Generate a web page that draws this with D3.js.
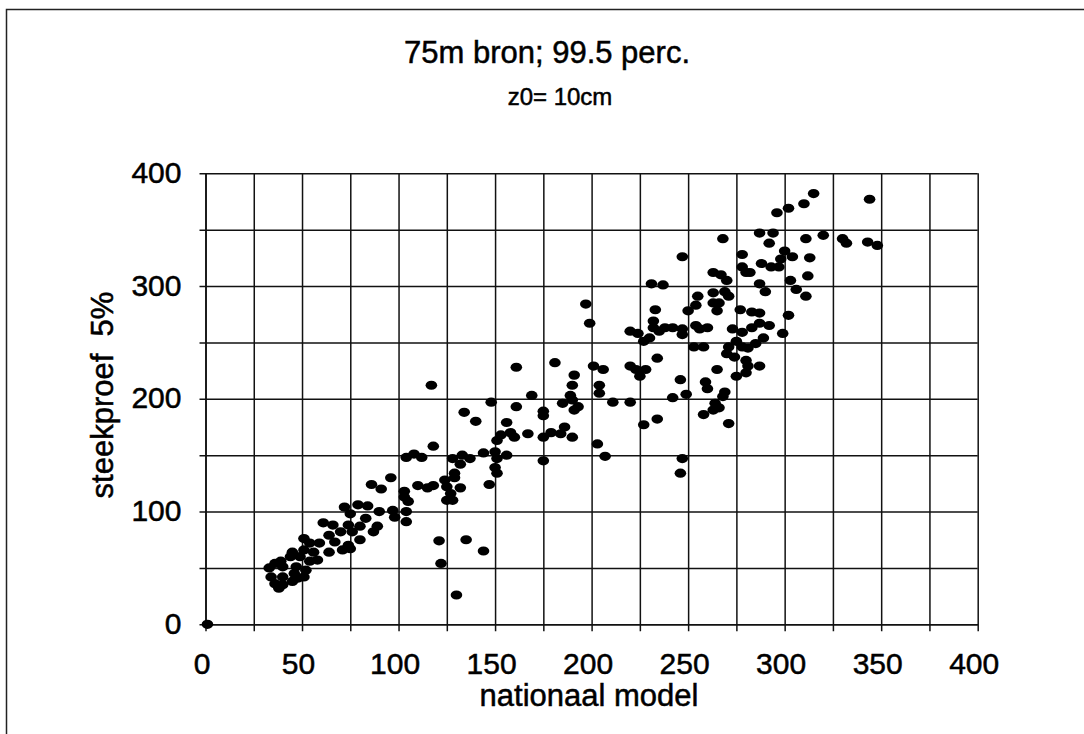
<!DOCTYPE html>
<html>
<head>
<meta charset="utf-8">
<script src="https://cdn.jsdelivr.net/npm/d3@7"></script>
<style>
  body { margin: 0; background: #fff; }
  svg { display: block; font-family: "Liberation Sans", Arial, sans-serif; }
  text { fill: #000; stroke: #000; stroke-width: 0.5px; }
</style>
</head>
<body>
<svg id="chart" width="1084" height="734"></svg>
<script>

// Chart texts
const titleText = "75m bron; 99.5 perc.";
const subtitleText = "z0= 10cm";
const xTitle = "nationaal model";
const yTitle = "steekproef  5%";

// Axis ticks
const xGridValues = d3.range(0, 401, 25);
const xLabelValues = d3.range(0, 401, 50);
const yGridValues = d3.range(0, 401, 50);
const yLabelValues = d3.range(0, 401, 100);

// Data: nationaal model (x) vs steekproef 5% (y)
const nationaal = [
  96, 86, 91, 110, 115, 103, 105, 103, 72, 79, 84, 90, 75, 97, 104, 98, 104, 83, 89, 80,
  74, 61, 66, 87, 76, 70, 64, 51, 54, 59, 67, 74, 80, 71, 75, 64, 56, 51, 45, 49,
  44, 58, 54, 39, 36, 33, 40, 47, 52, 34, 40, 46, 51, 36, 40, 38, 45, 48,
  117, 161, 191, 190, 201, 206, 204, 204, 148, 169, 189, 190, 185, 193, 191, 211, 134, 140, 161, 175,
  175, 156, 186, 153, 158, 160, 151, 167, 175, 179, 184, 190, 203, 207, 175, 118, 112, 128, 133, 137,
  144, 150, 151, 156, 132, 150, 151, 129, 124, 129, 147, 118, 125, 132, 127, 125, 128, 121, 135, 144,
  122, 130,
  231, 237, 263, 267, 270, 280, 287, 290, 303, 306, 255, 263, 269, 271, 263, 266, 254, 250, 265, 233,
  277, 283, 287, 302, 232, 232, 220, 224, 235, 238, 242, 247, 247, 254, 256, 260, 273, 278, 283, 287,
  292, 299, 289, 285, 281, 275, 271, 278, 227, 230, 253, 258, 270, 274, 280, 287, 281, 280, 275, 234,
  220, 223, 225, 228, 246, 265, 259, 260, 249, 242, 269, 268, 264, 263, 266, 258, 271, 220, 234, 227,
  247, 246,
  315, 310, 302, 296, 344, 268, 287, 294, 292, 311, 320, 330, 332, 343, 348, 278, 300, 298, 304, 313,
  288, 278, 282, 293, 297, 312, 311,
  1, 104, 108, 181, 197, 199, 247
];
const steekproef = [
  130, 124, 120, 123, 121, 118, 109, 113, 104, 106, 105, 100, 98, 101, 100, 95, 91, 94, 87, 87,
  88, 90, 88, 82, 82, 82, 79, 76, 72, 72, 73, 70, 75, 66, 67, 64, 64, 66, 64, 60,
  60, 57, 56, 56, 54, 50, 51, 51, 48, 42, 42, 45, 42, 36, 35, 32, 38, 41,
  212, 228, 221, 212, 229, 226, 212, 205, 197, 203, 203, 199, 196, 193, 190, 197, 188, 180, 193, 189,
  185, 179, 175, 168, 170, 166, 163, 169, 166, 170, 169, 166, 160, 149, 145, 158, 148, 147, 150, 147,
  152, 153, 147, 150, 142, 139, 134, 134, 128, 130, 124, 123, 122, 121, 116, 110, 110, 74, 75, 65,
  54, 26,
  302, 301, 312, 310, 305, 312, 302, 295, 305, 297, 291, 294, 295, 291, 285, 285, 283, 278, 278, 279,
  279, 277, 276, 274, 269, 263, 260, 258, 260, 263, 263, 262, 257, 265, 262, 263, 262, 259, 263, 267,
  265, 258, 254, 249, 245, 251, 246, 246, 251, 254, 246, 246, 240, 237, 234, 229, 229, 223, 220, 236,
  229, 226, 220, 226, 217, 226, 215, 209, 204, 201, 206, 202, 196, 190, 192, 186, 178, 197, 182, 177,
  147, 134,
  382, 373, 369, 365, 377, 342, 347, 347, 338, 342, 345, 342, 338, 339, 336, 328, 331, 324, 326, 325,
  320, 317, 312, 317, 317, 309, 291,
  0, 148, 151, 232, 284, 267, 326
];

const points = nationaal.map((v, i) => ({x: v, y: steekproef[i]}));

const svg = d3.select("#chart");

// Outer frame (only top and left edges show in the scan)
svg.append("path")
  .attr("d", "M6.5,734 V9.5 H1084")
  .attr("fill", "none")
  .attr("stroke", "#222")
  .attr("stroke-width", 1.5);

// Scales
const x = d3.scaleLinear().domain([0, 400]).range([205.5, 977.7]);
const y = d3.scaleLinear().domain([0, 400]).range([624.3, 173.3]);
const plotTop = y(400), plotBottom = y(0), plotLeft = x(0), plotRight = x(400);

// Vertical grid + bottom ticks
const xAxis = svg.append("g")
  .attr("transform", `translate(0,${plotBottom})`)
  .call(d3.axisBottom(x)
    .tickValues(xGridValues)
    .tickSizeInner(-(plotBottom - plotTop))
    .tickSizeOuter(0)
    .tickFormat(d => xLabelValues.includes(d) ? d : ""));
xAxis.select(".domain").attr("stroke", "#111").attr("stroke-width", 1.6);
xAxis.selectAll(".tick line")
  .attr("y1", 7)
  .attr("stroke", "#111")
  .attr("stroke-width", 1.5);
xAxis.selectAll(".tick text")
  .attr("x", -4)
  .attr("y", 50)
  .attr("dy", null)
  .style("font-size", "30px");

// Horizontal grid + left ticks
const yAxis = svg.append("g")
  .attr("transform", `translate(${plotLeft},0)`)
  .call(d3.axisLeft(y)
    .tickValues(yGridValues)
    .tickSizeInner(-(plotRight - plotLeft))
    .tickSizeOuter(0)
    .tickFormat(d => yLabelValues.includes(d) ? d : ""));
yAxis.select(".domain").attr("stroke", "#111").attr("stroke-width", 1.6);
yAxis.selectAll(".tick line")
  .attr("x1", -6)
  .attr("stroke", "#111")
  .attr("stroke-width", 1.5);
yAxis.selectAll(".tick text")
  .attr("x", -24)
  .attr("dy", "0.3em")
  .style("font-size", "30px");

// Points
svg.append("g")
  .selectAll("ellipse")
  .data(points)
  .join("ellipse")
  .attr("cx", d => x(d.x))
  .attr("cy", d => y(d.y))
  .attr("rx", 5.8)
  .attr("ry", 4.6)
  .attr("fill", "#000");

// Titles
svg.append("text")
  .attr("x", 547).attr("y", 63)
  .attr("text-anchor", "middle")
  .style("font-size", "31px")
  .text(titleText);

svg.append("text")
  .attr("x", 560).attr("y", 105)
  .attr("text-anchor", "middle")
  .style("font-size", "24px")
  .text(subtitleText);

svg.append("text")
  .attr("x", 589).attr("y", 706)
  .attr("text-anchor", "middle")
  .style("font-size", "31px")
  .text(xTitle);

svg.append("text")
  .attr("transform", "translate(113,395) rotate(-90)")
  .attr("text-anchor", "middle")
  .style("font-size", "31px")
  .style("white-space", "pre")
  .text(yTitle);

</script>
</body>
</html>
